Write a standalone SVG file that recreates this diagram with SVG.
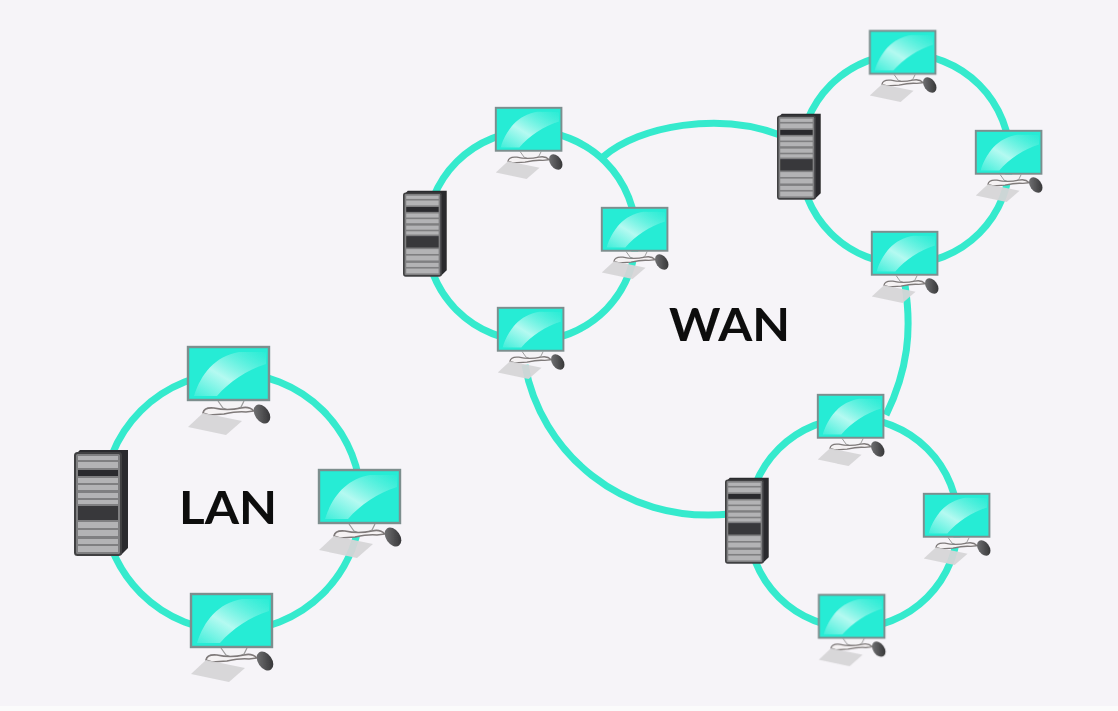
<svg xmlns="http://www.w3.org/2000/svg" width="1118" height="711" viewBox="0 0 1118 711">
<style>
.link{fill:none;stroke:#35eacd;stroke-width:7}
.label{font-family:"Lato","Liberation Sans",sans-serif;font-weight:700;fill:#0c0c0c}
</style>
<defs>
<linearGradient id="gloss" x1="0" y1="1" x2="1" y2="0"><stop offset="0" stop-color="#d8fdf8" stop-opacity=".15"/><stop offset=".42" stop-color="#d8fdf8" stop-opacity=".8"/><stop offset="1" stop-color="#8ff5e6" stop-opacity=".05"/></linearGradient>
<linearGradient id="mouse" x1="0" y1="0" x2="1" y2="1"><stop offset="0" stop-color="#7b7b7d"/><stop offset="1" stop-color="#2b2b2d"/></linearGradient>
<filter id="soft" x="-5%" y="-5%" width="110%" height="110%"><feGaussianBlur stdDeviation=".7"/></filter>
<g id="pc">
<path d="M31 55l5 7q10 5 18-1l3-6" fill="#f4f3f5" stroke="#9a9a9a" stroke-width="1.2"/>
<path d="M16 67q1-6 11-5q13 3 27 0q8-2 13 3l-8 1q-8-1-22 2l-15 1z" fill="#f5f2f3" stroke="#7f7a7a" stroke-width="1.6"/>
<polygon points="1,81 16,67 55,75 39,89" fill="#d6d5d7" fill-opacity=".94"/>
<ellipse cx="75" cy="68" rx="7" ry="10.5" transform="rotate(-35 75 68)" fill="url(#mouse)"/>
<rect x="1" y="1" width="81" height="53" fill="#25ecd5" stroke="#7d8e8e" stroke-width="2.4"/>
<path d="M7 50C14 28 28 10 52 6H79V18C60 24 42 36 30 50z" fill="url(#gloss)"/>
</g>
<g id="srv">
<path d="M2 5L6 1H54V99L47 106H40V5z" fill="#2c2c2e"/>
<rect x="1" y="4" width="46" height="102" rx="2.5" fill="#7f7f81" stroke="#414143" stroke-width="2"/>
<g fill="#b3b3b5">
<rect x="4" y="7" width="40" height="4"/><rect x="4" y="13" width="40" height="6"/><rect x="4" y="29" width="40" height="5"/><rect x="4" y="36" width="40" height="5"/><rect x="4" y="44" width="40" height="5"/><rect x="4" y="51" width="40" height="4"/><rect x="4" y="73" width="40" height="6"/><rect x="4" y="81" width="40" height="6"/><rect x="4" y="90" width="40" height="5"/><rect x="4" y="97" width="40" height="6"/>
</g>
<rect x="4" y="21" width="40" height="6" fill="#2b2b2d"/>
<rect x="4" y="57" width="40" height="14" fill="#38383a"/>
</g>
</defs>
<rect width="1118" height="711" fill="#f6f4f8"/>
<rect y="706" width="1118" height="5" fill="#fbfbfb"/>
<g filter="url(#soft)">
<g id="connectors">
<circle class="link" cx="232" cy="502" r="129"/>
<circle class="link" cx="531" cy="236" r="105"/>
<circle class="link" cx="905" cy="159" r="105"/>
<circle class="link" cx="853" cy="523" r="105"/>
<path class="link" d="M603 157C640 125 720 112 780 135"/>
<path class="link" d="M905 285C912 330 908 370 886 415"/>
<path class="link" d="M525 365C540 450 620 525 730 514"/>
</g>
<g id="lan-server"><use href="#srv" transform="translate(74 449)"/></g>
<g id="lan-pc1"><use href="#pc" transform="translate(187 346)"/></g>
<g id="lan-pc2"><use href="#pc" transform="translate(318 469)"/></g>
<g id="lan-pc3"><use href="#pc" transform="translate(190 593)"/></g>
<g id="a-server"><use href="#srv" transform="translate(403 190) scale(.81)"/></g>
<g id="a-pc1"><use href="#pc" transform="translate(495 107) scale(.81)"/></g>
<g id="a-pc2"><use href="#pc" transform="translate(601 207) scale(.81)"/></g>
<g id="a-pc3"><use href="#pc" transform="translate(497 307) scale(.81)"/></g>
<g id="b-server"><use href="#srv" transform="translate(777 113) scale(.81)"/></g>
<g id="b-pc1"><use href="#pc" transform="translate(869 30) scale(.81)"/></g>
<g id="b-pc2"><use href="#pc" transform="translate(975 130) scale(.81)"/></g>
<g id="b-pc3"><use href="#pc" transform="translate(871 231) scale(.81)"/></g>
<g id="c-server"><use href="#srv" transform="translate(725 477) scale(.81)"/></g>
<g id="c-pc1"><use href="#pc" transform="translate(817 394) scale(.81)"/></g>
<g id="c-pc2"><use href="#pc" transform="translate(923 493) scale(.81)"/></g>
<g id="c-pc3"><use href="#pc" transform="translate(818 594) scale(.81)"/></g>
<text class="label" x="179" y="524" font-size="46" textLength="98" lengthAdjust="spacingAndGlyphs">LAN</text>
<text class="label" x="669" y="341" font-size="46" textLength="121" lengthAdjust="spacingAndGlyphs">WAN</text>
</g>
</svg>
